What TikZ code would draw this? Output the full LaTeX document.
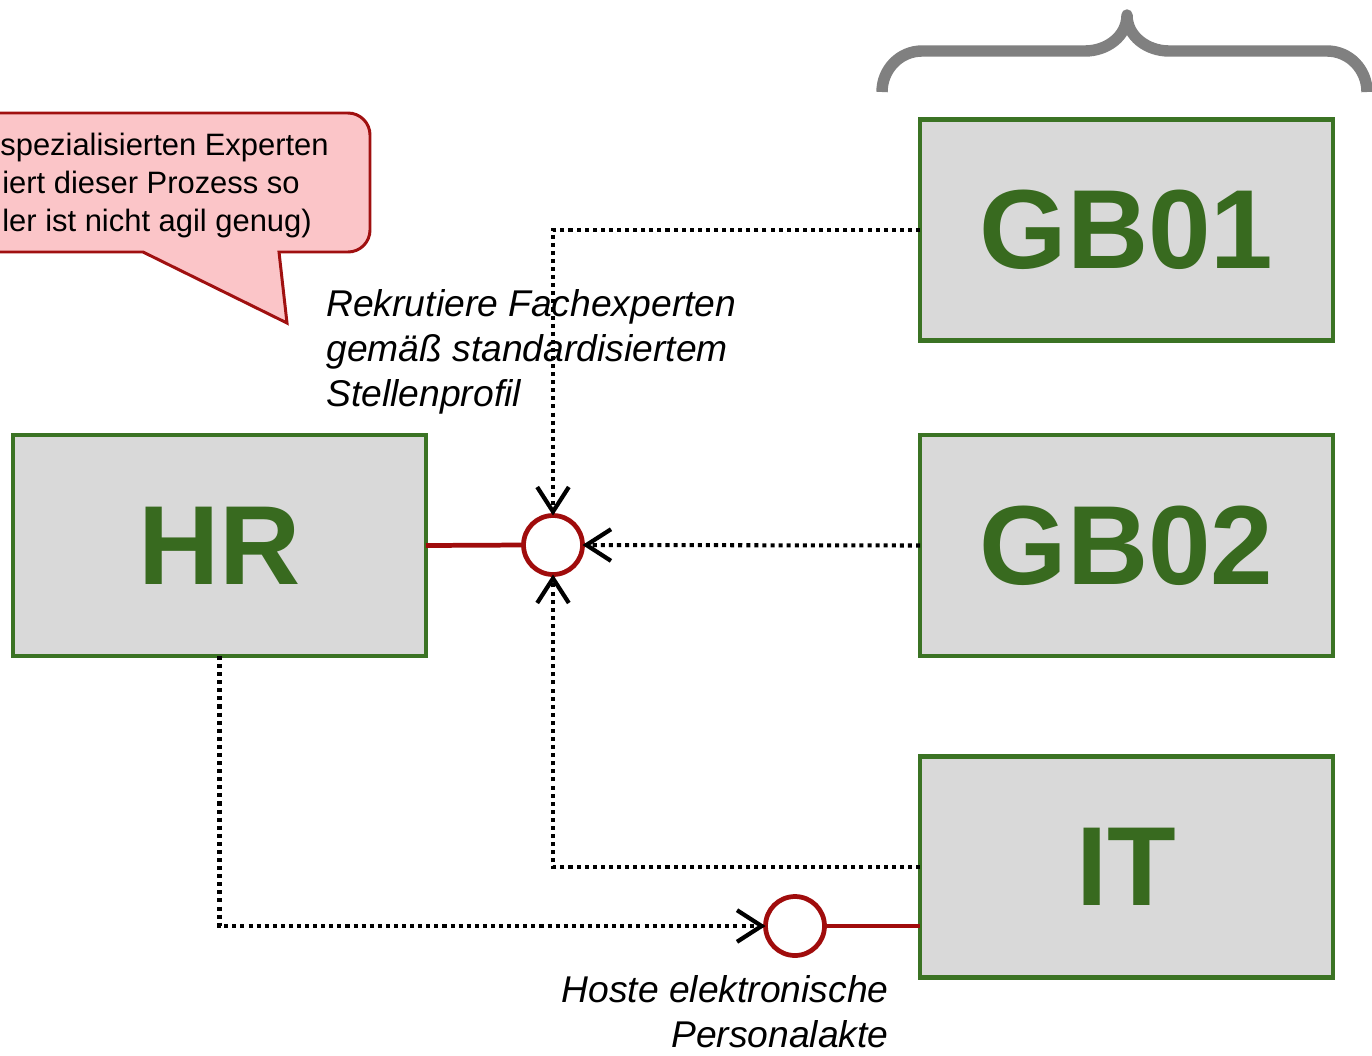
\documentclass[tikz,border=0pt]{standalone}
\usepackage{fontspec}
\setmainfont{Liberation Sans}
\usetikzlibrary{arrows.meta}
\definecolor{boxfill}{HTML}{D9D9D9}
\definecolor{boxgreen}{HTML}{3B7324}
\definecolor{txtgreen}{HTML}{386A1F}
\definecolor{ifred}{HTML}{A00C0C}
\definecolor{notefill}{HTML}{FBC5C8}
\definecolor{noteline}{HTML}{A01010}
\definecolor{bracegray}{HTML}{808080}
\begin{document}
\begin{tikzpicture}[x=0.02cm,y=-0.02cm,
  unit/.style={draw=boxgreen, fill=boxfill, line width=2.4pt,
    minimum width=8.26cm, minimum height=4.42cm, inner sep=0pt, outer sep=0pt,
    font=\fontsize{64}{70}\selectfont\bfseries, text=txtgreen},
  iface/.style={circle, draw=ifred, fill=white, line width=2.7pt,
    minimum size=1.18cm, inner sep=0pt, outer sep=0pt},
  link/.style={draw=ifred, line width=2.7pt},
  dep/.style={draw=black, line width=2.3pt, dash pattern=on 2.3pt off 2.3pt,
    -{Straight Barb[length=14pt,width=18pt,line width=2.4pt]}},
  lbl/.style={inner sep=0pt, font=\fontsize{21.2}{25}\selectfont\itshape},
  notetext/.style={inner sep=0pt, font=\fontsize{17.6}{21}\selectfont, anchor=base west},
  note/.style={draw=noteline, fill=notefill, line width=1.7pt},
  brace/.style={draw=bracegray, line width=6.5pt, line join=round}
]
\useasboundingbox (0,0) rectangle (1372,1055);
\clip (0,0) rectangle (1372,1055);

% curly brace over the business units
\path[brace] (882,92) to[out=90,in=180] (922,51) -- (1085,51)
  to[out=0,in=270] (1127,15) to[out=270,in=180] (1169,51) -- (1327,51)
  to[out=0,in=90] (1367,92);

% speech bubble
\path[note] (-60,113) -- (348,113) .. controls (360.15,113) and (370,122.85) .. (370,135)
  -- (370,230) .. controls (370,242.15) and (360.15,252) .. (348,252)
  -- (279,252) -- (287,323) -- (143,252) -- (-60,252) -- cycle;
\node[notetext] (n1) at (0,155) {spezialisierten Experten};
\node[notetext] (n2) at (2,193) {iert dieser Prozess so};
\node[notetext] (n3) at (2,231) {ler ist nicht agil genug)};

% organisational units
\node[unit] (HR)   at (219.5,545.5) {HR};
\node[unit] (GB01) at (1126.5,230)  {GB01};
\node[unit] (GB02) at (1126.5,545.5){GB02};
\node[unit] (IT)   at (1126.5,867)  {IT};

% labels of the provided interfaces
\node[lbl, anchor=base west] (r1) at (326,316) {Rekrutiere Fachexperten};
\node[lbl, anchor=base west] (r2) at (326,361) {gemäß standardisiertem};
\node[lbl, anchor=base west] (r3) at (326,406) {Stellenprofil};
\node[lbl, anchor=base east] (h1) at (889,1002) {Hoste elektronische};
\node[lbl, anchor=base east] (h2) at (889,1047) {Personalakte};

% provided interfaces
\node[iface] (c1) at (553,545) {};
\node[iface] (c2) at (795,926) {};

% provision links
\draw[link] (HR.east) -- (c1.west);
\draw[link] (c2.east) -- (c2.east -| IT.west);

% usage dependencies
\draw[dep] (GB01.west) -| (c1.north);
\draw[dep] (GB02.west) -- (c1.east);
\draw[dep] (IT.west) -| (c1.south);
\draw[dep] (HR.south) |- (c2.west);
\end{tikzpicture}
\end{document}
